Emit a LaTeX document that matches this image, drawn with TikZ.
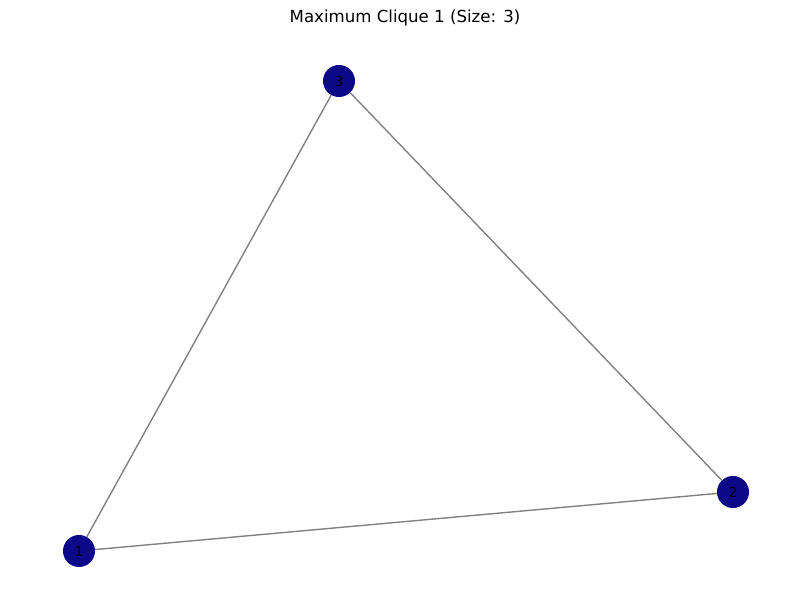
\documentclass[tikz,border=0pt]{standalone}
\usepackage{fontspec}
\setmainfont{DejaVu Sans}
\definecolor{cliqueblue}{HTML}{0D0887}
\definecolor{edgegray}{HTML}{808080}
\tikzset{
  vertex/.style={circle,fill=cliqueblue,inner sep=0pt,minimum size=0.32in,font=\fontsize{10}{12}\selectfont},
  edge/.style={draw=edgegray,line width=1pt}
}
\begin{document}
\begin{tikzpicture}[x=0.01in,y=-0.01in]

% ---------------- frame ----------------
\useasboundingbox (0,0) rectangle (811,611);

% ---------------- title ----------------
\node[font=\fontsize{12}{14}\selectfont] (title) at (405,18) {Maximum Clique 1 (Size: 3)};

% ---------------- vertices ----------------
\node[vertex] (v1) at (79,551) {1};
\node[vertex] (v2) at (733,492) {2};
\node[vertex] (v3) at (339,81) {3};

% ---------------- edges ----------------
\draw[edge] (v1) -- (v2);
\draw[edge] (v1) -- (v3);
\draw[edge] (v3) -- (v2);

\end{tikzpicture}
\end{document}
